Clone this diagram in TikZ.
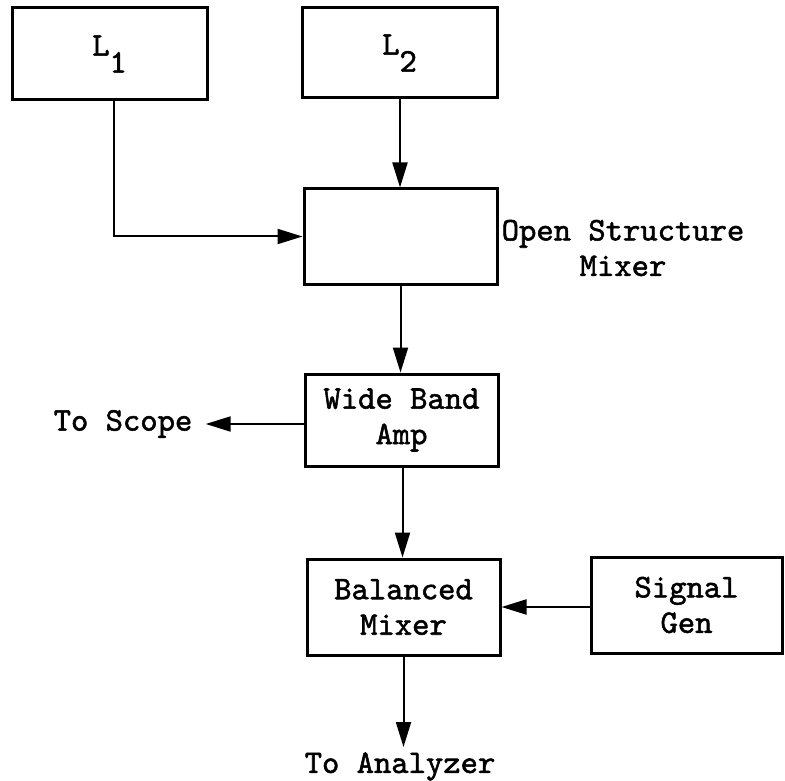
\documentclass[tikz,border=0pt]{standalone}
\usepackage{fontspec}
\newfontfamily\twfont{lmmono10-regular.otf}[RawFeature={embolden=1.6}]
\usetikzlibrary{arrows.meta,positioning}
\begin{document}
\begin{tikzpicture}[x=0.5pt,y=-0.5pt,
  blk/.style={draw,line width=1.5pt,rectangle,inner sep=0pt,align=center,
    font=\twfont\fontsize{16.5pt}{17.75pt}\selectfont},
  lbl/.style={inner sep=0pt,align=center,
    font=\twfont\fontsize{16.5pt}{17.75pt}\selectfont},
  conn/.style={line width=1pt,-{Triangle[length=12.5pt,width=7.5pt]}}
]
\useasboundingbox (0,0) rectangle (785,780);
\node[blk,minimum width=97.5pt,minimum height=46pt] (L1) at (109.5,54) {L\raisebox{-8.5pt}{1}};
\node[blk,minimum width=97.5pt,minimum height=45pt] (L2) at (399.5,53) {L\raisebox{-8.5pt}{2}};
\node[blk,minimum width=96.5pt,minimum height=47.5pt] (OSM) at (400.5,236.5) {};
\node[lbl] (osml) at (623,248) {Open Structure\\Mixer};
\node[blk,minimum width=96.5pt,minimum height=46pt] (WBA) at (401.5,420) {Wide Band\\Amp};
\node[blk,minimum width=96.5pt,minimum height=48pt] (BM) at (403.5,607) {Balanced\\Mixer};
\node[blk,minimum width=95.5pt,minimum height=48pt] (SG) at (686.5,605) {Signal\\Gen};
\node[lbl] (scope) at (123,424) {To Scope};
\node[lbl,anchor=north] (ana) at (400,752) {To Analyzer};

\draw[conn] ([xshift=2.25pt]L1.south) |- (OSM.west);
\draw[conn] ([xshift=0.25pt]L2.south) -- ([xshift=0.25pt]L2.south |- OSM.north);
\draw[conn] (OSM.south) -- (OSM.south |- WBA.north);
\draw[conn,shorten >=6.5pt] (WBA.west |- scope.east) -- (scope.east);
\draw[conn] ([xshift=0.5pt]WBA.south) -- ([xshift=0.5pt]WBA.south |- BM.north);
\draw[conn] (BM.east -| SG.west) -- (BM.east);
\draw[conn,shorten >=2.5pt] (BM.south) -- (BM.south |- ana.north);
\end{tikzpicture}
\end{document}
